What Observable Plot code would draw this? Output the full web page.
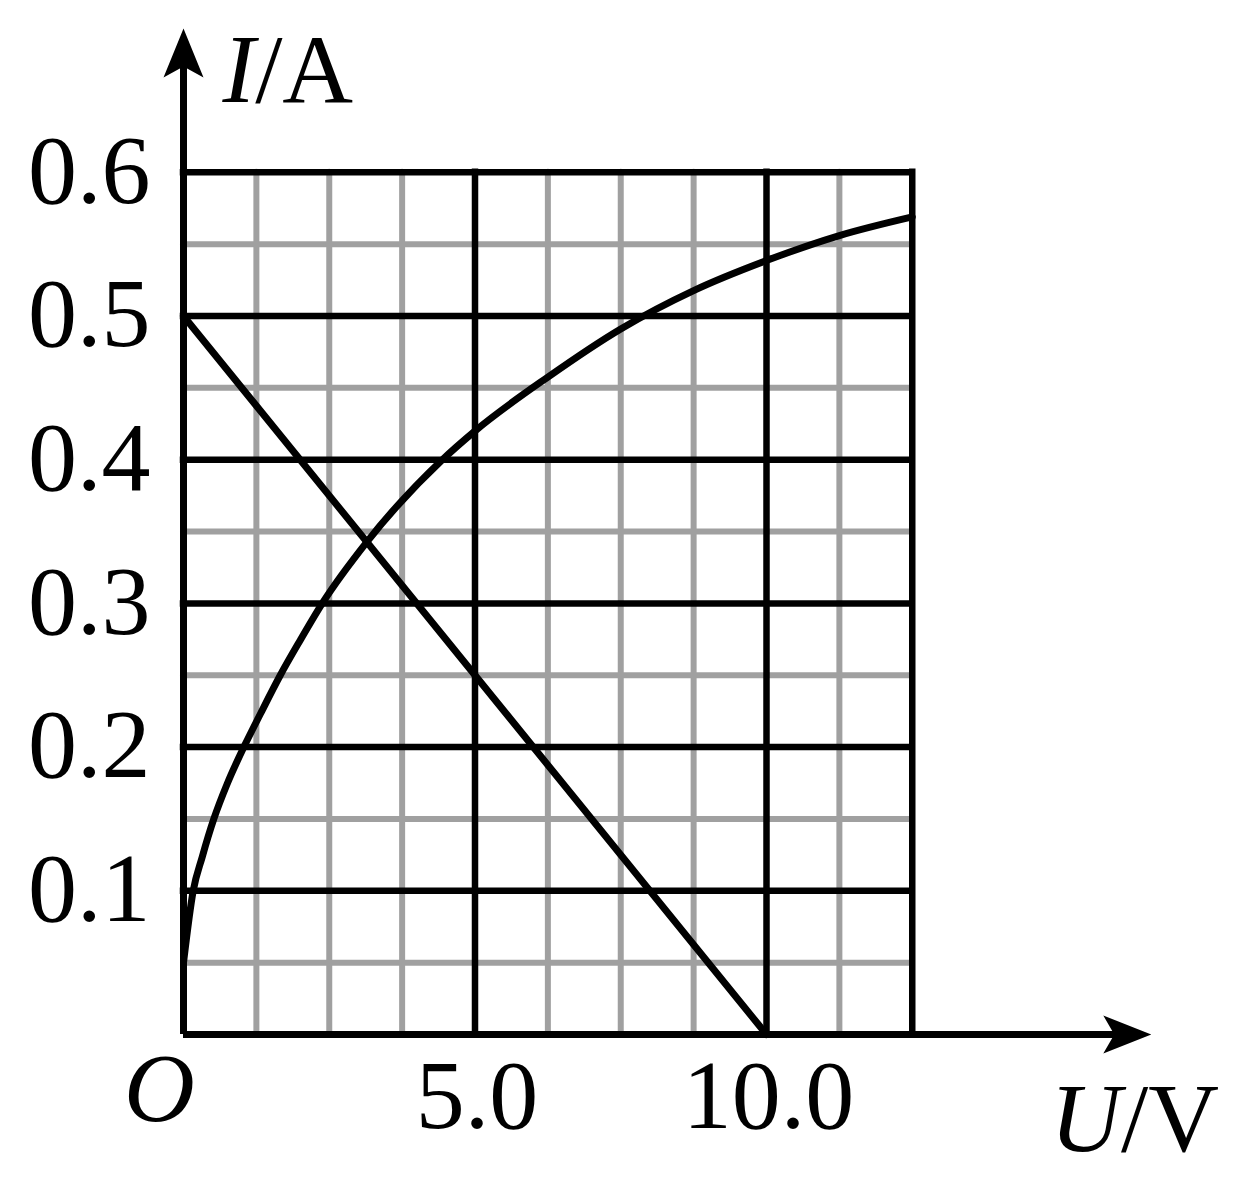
<!DOCTYPE html>
<html>
<head>
<meta charset="utf-8">
<script src="https://cdn.jsdelivr.net/npm/d3@7"></script>
<script src="https://cdn.jsdelivr.net/npm/@observablehq/plot@0.6"></script>
<style>
  html, body { margin: 0; padding: 0; background: #fff; overflow: hidden; }
</style>
</head>
<body>
<div id="chart"></div>
<script>
// ---- data ----
const curveU = [0, 0.166, 0.32, 0.52, 0.75, 1.035, 1.32, 1.66, 2.0, 2.38, 3.15, 4.44, 5, 6.25, 7.5, 8.75, 10, 11.25, 12.5];
const curveI = [0.05, 0.1, 0.1234, 0.15, 0.1745, 0.2, 0.2232, 0.25, 0.2742, 0.3, 0.343, 0.4, 0.42, 0.4575, 0.491, 0.5177, 0.5386, 0.556, 0.569];
const lineU = [0, 10];
const lineI = [0.5, 0];

const majorX = [5, 10, 12.5];
const minorX = [1.25, 2.5, 3.75, 6.25, 7.5, 8.75, 11.25];
const majorY = [0.1, 0.2, 0.3, 0.4, 0.5, 0.6];
const minorY = [0.05, 0.15, 0.25, 0.35, 0.45, 0.55];

const xTickValues = [5, 10];
const xTickText = ["5.0", "10.0"];
const yTickValues = [0.1, 0.2, 0.3, 0.4, 0.5, 0.6];
const yTickText = ["0.1", "0.2", "0.3", "0.4", "0.5", "0.6"];

const xAxisTip = 16.6;   // U value where the U axis arrow ends
const yAxisTip = 0.70;   // I value where the I axis arrow ends
const xLabel = "U/V";
const yLabel = "I/A";
const originLabel = "O";

// ---- build ----
const curveData = curveU.map((u, k) => ({U: u, I: curveI[k]}));
const lineData = lineU.map((u, k) => ({U: u, I: lineI[k]}));

const arrowUp = {
  draw(ctx) {
    ctx.moveTo(0, 0);
    ctx.lineTo(20, 49);
    ctx.lineTo(0, 38);
    ctx.lineTo(-20, 49);
    ctx.closePath();
  }
};
const arrowRight = {
  draw(ctx) {
    ctx.moveTo(0, 0);
    ctx.lineTo(-48, -19);
    ctx.lineTo(-37, 0);
    ctx.lineTo(-48, 19);
    ctx.closePath();
  }
};

const FONT = "'Liberation Serif', 'Times New Roman', serif";
const FS = 98;
const GRAY = "#a0a0a0";

const svg = Plot.plot({
  width: 1240,
  height: 1180,
  marginLeft: 183,
  marginRight: 328.25,
  marginTop: 171.8,
  marginBottom: 146,
  x: {domain: [0, 12.5], axis: null},
  y: {domain: [0, 0.6], axis: null},
  style: {background: "white", fontFamily: FONT},
  marks: [
    // minor grid
    Plot.ruleX(minorX, {x: d => d, y1: 0.6, y2: 0, stroke: GRAY, strokeWidth: 6, strokeLinecap: "round"}),
    Plot.ruleY(minorY, {y: d => d, x1: 0, x2: 12.5, stroke: GRAY, strokeWidth: 6, strokeLinecap: "round"}),
    // major grid
    Plot.ruleX(majorX, {x: d => d, y1: 0.6, y2: 0, stroke: "black", strokeWidth: 6.5, strokeLinecap: "square"}),
    Plot.ruleY(majorY, {y: d => d, x1: 0, x2: 12.5, stroke: "black", strokeWidth: 6.5, strokeLinecap: "square"}),
    // axes with arrowheads
    Plot.ruleX([0], {x: d => d, y1: yAxisTip, y2: 0, stroke: "black", strokeWidth: 7, insetTop: 20}),
    Plot.ruleY([0], {y: d => d, x1: 0, x2: xAxisTip, stroke: "black", strokeWidth: 7, insetRight: 20}),
    Plot.dot([0], {x: 0, y: yAxisTip, symbol: arrowUp, fill: "black", stroke: "none"}),
    Plot.dot([0], {x: xAxisTip, y: 0, symbol: arrowRight, fill: "black", stroke: "none"}),
    // curves
    Plot.line(lineData, {x: "U", y: "I", stroke: "black", strokeWidth: 7}),
    Plot.line(curveData, {x: "U", y: "I", curve: "monotone-x", stroke: "black", strokeWidth: 7}),
    // tick labels
    Plot.text(yTickValues, {x: 0, y: d => d, text: (d, k) => yTickText[k], textAnchor: "end", lineAnchor: "middle", dx: -33, dy: -1, fontSize: FS, fontFamily: FONT, fill: "black"}),
    Plot.text(xTickValues, {x: d => d, y: 0, text: (d, k) => xTickText[k], textAnchor: "middle", lineAnchor: "bottom", dx: 2, dy: 93, fontSize: FS, fontFamily: FONT, fill: "black"}),
    // origin and axis labels
    Plot.text([originLabel], {frameAnchor: "bottom-left", text: d => d, textAnchor: "middle", lineAnchor: "bottom", dx: -24, dy: 86, fontSize: FS, fontFamily: FONT, fontStyle: "italic", fill: "black"}),
    Plot.text([yLabel], {frameAnchor: "top-left", text: d => d, textAnchor: "start", lineAnchor: "bottom", dx: 39, dy: -70, fontSize: FS, fontFamily: FONT, fill: "black"}),
    Plot.text([xLabel], {frameAnchor: "bottom-right", text: d => d, textAnchor: "start", lineAnchor: "bottom", dx: 138, dy: 116, fontSize: FS, fontFamily: FONT, fill: "black"})
  ]
});

// italicize the quantity symbol in the axis labels (I/A, U/V)
function italicizeFirst(root, str) {
  d3.select(root).selectAll("text").filter(function () { return this.textContent === str; }).each(function () {
    const t = d3.select(this);
    t.text(null);
    t.append("tspan").attr("font-style", "italic").text(str[0]);
    t.append("tspan").text(str.slice(1));
  });
}
italicizeFirst(svg, yLabel);
italicizeFirst(svg, xLabel);

document.getElementById("chart").appendChild(svg);
</script>
</body>
</html>
